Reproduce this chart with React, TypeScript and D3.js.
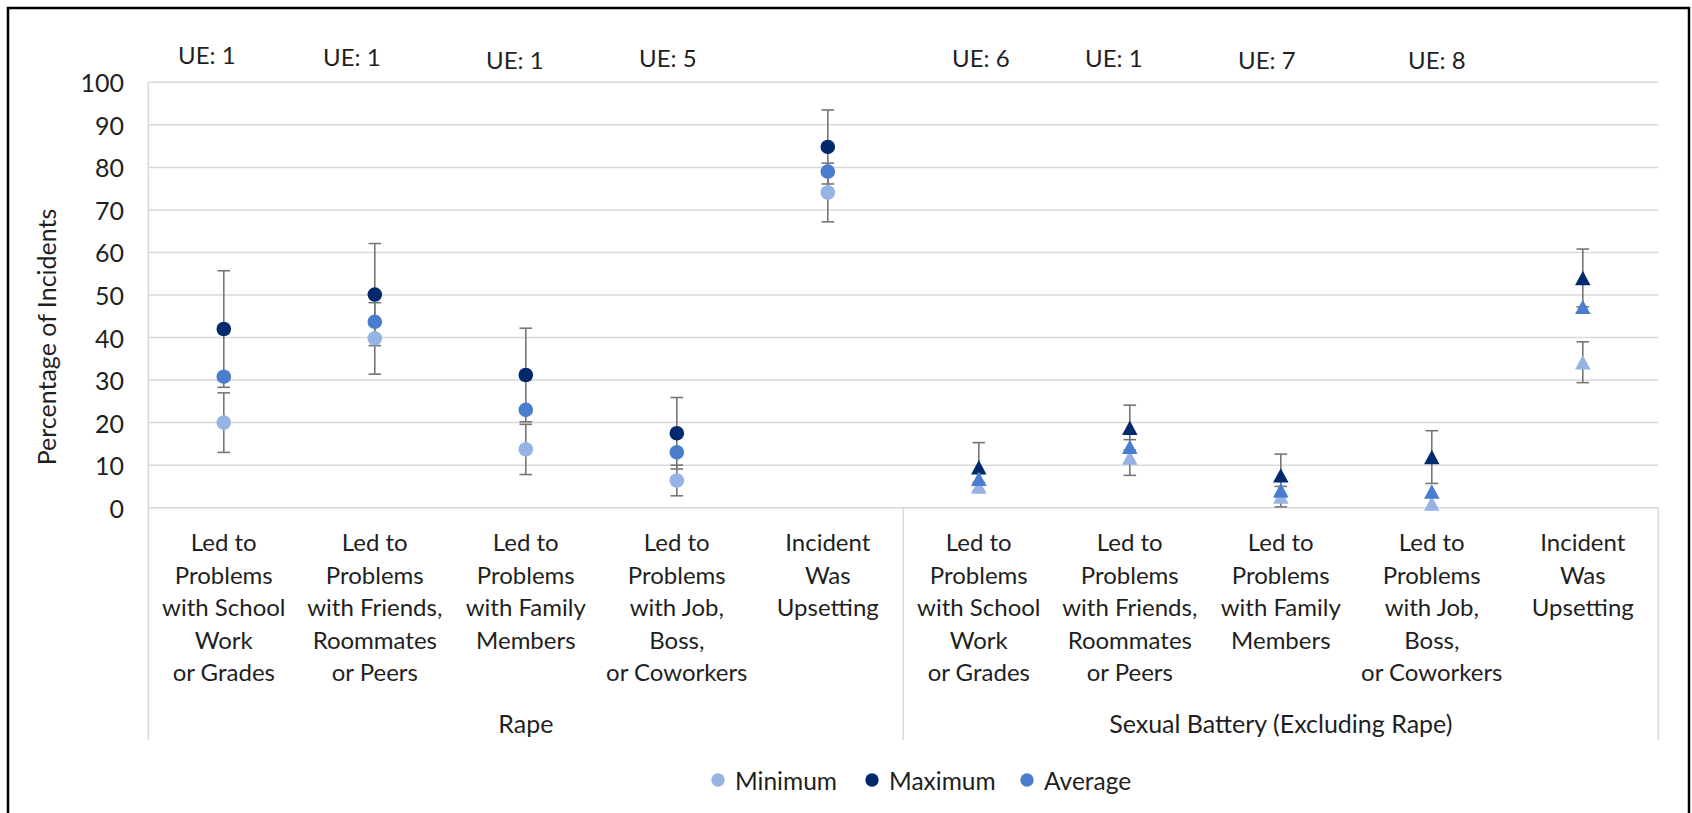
import React from "react";
import * as d3 from "d3";

// ---------- data ----------
const categories = [
  "Led to\nProblems\nwith School\nWork\nor Grades",
  "Led to\nProblems\nwith Friends,\nRoommates\nor Peers",
  "Led to\nProblems\nwith Family\nMembers",
  "Led to\nProblems\nwith Job,\nBoss,\nor Coworkers",
  "Incident\nWas\nUpsetting",
  "Led to\nProblems\nwith School\nWork\nor Grades",
  "Led to\nProblems\nwith Friends,\nRoommates\nor Peers",
  "Led to\nProblems\nwith Family\nMembers",
  "Led to\nProblems\nwith Job,\nBoss,\nor Coworkers",
  "Incident\nWas\nUpsetting",
];
const groups = ["Rape", "Sexual Battery (Excluding Rape)"];
const groupSize = 5;
const ueLabels = ["UE: 1", "UE: 1", "UE: 1", "UE: 5", "", "UE: 6", "UE: 1", "UE: 7", "UE: 8", ""];

const minimum = [20.0, 39.8, 13.7, 6.4, 74.1, 5.0, 11.8, 2.6, 1.0, 34.2];
const maximum = [42.0, 50.1, 31.2, 17.5, 84.8, 9.5, 18.8, 7.6, 11.9, 54.0];
const average = [30.8, 43.7, 23.0, 13.0, 79.0, 6.8, 14.3, 4.1, 3.8, 47.2];
const minimumErr = [7.0, 8.4, 5.9, 3.6, 6.9, 1.0, 4.2, 2.4, 0, 4.8];
const maximumErr = [13.7, 12.0, 11.0, 8.4, 8.7, 5.8, 5.3, 5.0, 6.2, 6.8];

const yTicks = [0, 10, 20, 30, 40, 50, 60, 70, 80, 90, 100];
const seriesNames = ["Minimum", "Maximum", "Average"];

// ---------- layout / style ----------
const W = 1692;
const H = 813;
const plotLeft = 148.3;
const plotRight = 1658.3;
const plotTop = 82.3;
const plotBottom = 507.7;
const axisBottom = 740;
const colors = { Minimum: "#95B3E3", Maximum: "#002A6C", Average: "#4A7DCD" };
const font = "Lato, 'Open Sans', sans-serif";
const textColor = "#1f1f1f";
const ueNudge = [
  { dx: -17, y: 64 }, { dx: -23, y: 66 }, { dx: -11, y: 69 }, { dx: -9, y: 67 }, { dx: 0, y: 67 },
  { dx: 2, y: 67 }, { dx: -16, y: 67 }, { dx: -14, y: 69 }, { dx: 5, y: 69 }, { dx: 0, y: 67 },
];
const legendX = [718, 872, 1027];
const legendY = 780;

const triangle = {
  draw(ctx: any, size: number) {
    const w = Math.sqrt(size);
    const h = w * 0.93;
    ctx.moveTo(0, -h / 2);
    ctx.lineTo(w / 2, h / 2);
    ctx.lineTo(-w / 2, h / 2);
    ctx.closePath();
  },
};

export default function App() {
  const idx = categories.map((_, i) => i);
  const x = d3.scaleBand<number>().domain(idx).range([plotLeft, plotRight]).padding(0);
  const y = d3.scaleLinear().domain([0, 100]).range([plotBottom, plotTop]);
  const cx = (i: number) => (x(i) as number) + x.bandwidth() / 2;

  const circlePath = d3.symbol().type(d3.symbolCircle).size(Math.PI * 7.3 * 7.3)();
  const triPath = d3.symbol().type(triangle as any).size(15.5 * 15.5)();
  const shapeFor = (i: number) => (i < groupSize ? circlePath : triPath);

  const series = [
    { name: "Minimum", values: minimum, err: minimumErr },
    { name: "Maximum", values: maximum, err: maximumErr },
    { name: "Average", values: average, err: null as number[] | null },
  ];

  const lineH = 32.5;
  const firstBaseline = 551;

  return (
    <svg
      width={W}
      height={H}
      style={{ position: "absolute", left: 0, top: 0, background: "#fff" }}
      fontFamily={font}
    >
      <rect x={0} y={0} width={W} height={H} fill="#fff" />
      {/* outer border */}
      <rect x={8} y={8} width={1681} height={830} fill="none" stroke="#000" strokeWidth={2.5} />

      {/* gridlines */}
      {yTicks.map((t) => (
        <line key={t} x1={plotLeft} x2={plotRight} y1={y(t)} y2={y(t)} stroke="#d9d9d9" strokeWidth={1.5} />
      ))}
      {/* left axis line */}
      <line x1={plotLeft} x2={plotLeft} y1={plotTop} y2={axisBottom} stroke="#d9d9d9" strokeWidth={1.5} />
      {/* group separators */}
      {groups.map((g, gi) => {
        const xr = (x((gi + 1) * groupSize - 1) as number) + x.bandwidth();
        return <line key={g} x1={xr} x2={xr} y1={plotBottom} y2={axisBottom} stroke="#d9d9d9" strokeWidth={1.5} />;
      })}

      {/* y tick labels */}
      {yTicks.map((t) => (
        <text key={t} x={124} y={y(t)} textAnchor="end" dominantBaseline="central" fontSize={25} fill={textColor}>
          {t}
        </text>
      ))}
      {/* y title */}
      <text
        transform={`translate(46,337) rotate(-90)`}
        textAnchor="middle"
        dominantBaseline="central"
        fontSize={25}
        fill={textColor}
      >
        Percentage of Incidents
      </text>

      {/* category labels */}
      {categories.map((c, i) => (
        <text key={i} textAnchor="middle" fontSize={24} fill={textColor}>
          {c.split("\n").map((ln, k) => (
            <tspan key={k} x={cx(i)} y={firstBaseline + k * lineH}>
              {ln}
            </tspan>
          ))}
        </text>
      ))}
      {/* group labels */}
      {groups.map((g, gi) => {
        const x0 = x(gi * groupSize) as number;
        const x1 = (x((gi + 1) * groupSize - 1) as number) + x.bandwidth();
        return (
          <text key={g} x={(x0 + x1) / 2} y={733} textAnchor="middle" fontSize={25} fill={textColor}>
            {g}
          </text>
        );
      })}

      {/* UE labels */}
      {ueLabels.map((u, i) =>
        u ? (
          <text key={i} x={cx(i) + ueNudge[i].dx} y={ueNudge[i].y} textAnchor="middle" fontSize={24} fill={textColor}>
            {u}
          </text>
        ) : null
      )}

      {/* error bars */}
      {series.map((s) =>
        s.err
          ? s.values.map((v, i) => {
              const e = s.err![i];
              if (!e) return null;
              const lo = Math.max(0, v - e);
              const hi = v + e;
              const px = cx(i);
              return (
                <g key={s.name + i} stroke="#767676" strokeWidth={1.6}>
                  <line x1={px} x2={px} y1={y(lo)} y2={y(hi)} />
                  <line x1={px - 6.3} x2={px + 6.3} y1={y(lo)} y2={y(lo)} />
                  <line x1={px - 6.3} x2={px + 6.3} y1={y(hi)} y2={y(hi)} />
                </g>
              );
            })
          : null
      )}

      {/* markers */}
      {series.map((s) =>
        s.values.map((v, i) => (
          <path
            key={s.name + "m" + i}
            d={shapeFor(i) as string}
            transform={`translate(${cx(i)},${y(v)})`}
            fill={(colors as any)[s.name]}
          />
        ))
      )}

      {/* legend */}
      {seriesNames.map((n, k) => (
        <g key={n}>
          <circle cx={legendX[k]} cy={legendY} r={6.7} fill={(colors as any)[n]} />
          <text x={legendX[k] + 17} y={legendY} dominantBaseline="central" fontSize={24.5} fill={textColor}>
            {n}
          </text>
        </g>
      ))}
    </svg>
  );
}
